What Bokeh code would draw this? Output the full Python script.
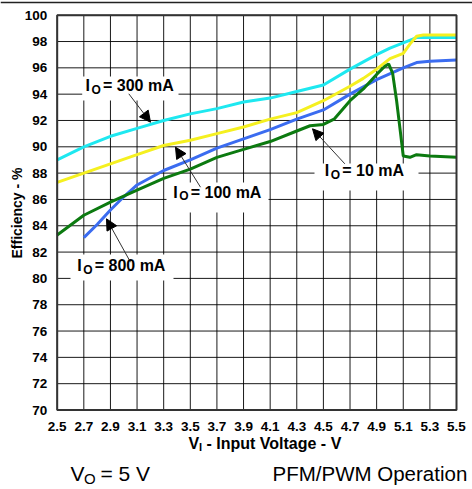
from bokeh.plotting import figure
from bokeh.models import FixedTicker, Label, Arrow, NormalHead, Range1d, Span
from bokeh.embed import file_html
from bokeh.resources import INLINE

# ---- data ----
vin_ticks = [2.5, 2.7, 2.9, 3.1, 3.3, 3.5, 3.7, 3.9, 4.1, 4.3, 4.5, 4.7, 4.9, 5.1, 5.3, 5.5]
eff_ticks = [70, 72, 74, 76, 78, 80, 82, 84, 86, 88, 90, 92, 94, 96, 98, 100]

v_300 = [2.5, 2.7, 2.9, 3.1, 3.3, 3.5, 3.7, 3.9, 4.1, 4.3, 4.5, 4.7, 4.9, 5.0, 5.1, 5.2, 5.3, 5.5]
eff_300 = [89.0, 90.0, 90.8, 91.4, 92.0, 92.5, 92.9, 93.4, 93.7, 94.2, 94.7, 95.9, 97.0, 97.5, 97.9, 98.3, 98.3, 98.3]

v_100 = [2.5, 2.7, 2.9, 3.1, 3.3, 3.5, 3.7, 3.9, 4.1, 4.3, 4.5, 4.7, 4.8, 4.9, 5.0, 5.1, 5.15, 5.2, 5.25, 5.5]
eff_100 = [87.3, 88.0, 88.7, 89.4, 90.1, 90.5, 91.0, 91.5, 92.1, 92.6, 93.5, 94.6, 95.2, 95.9, 96.7, 97.1, 97.8, 98.4, 98.5, 98.5]

v_800 = [2.7, 2.8, 2.9, 3.0, 3.1, 3.3, 3.5, 3.7, 3.9, 4.1, 4.3, 4.5, 4.7, 4.9, 5.1, 5.2, 5.3, 5.5]
eff_800 = [83.1, 84.1, 85.2, 86.2, 87.1, 88.2, 89.0, 89.9, 90.6, 91.3, 92.1, 92.8, 94.0, 95.1, 96.0, 96.4, 96.5, 96.6]

v_10 = [2.5, 2.7, 2.9, 3.1, 3.3, 3.5, 3.7, 3.9, 4.1, 4.3, 4.4, 4.5, 4.58, 4.7, 4.8, 4.9, 4.96, 4.99,
        5.02, 5.05, 5.08, 5.1, 5.15, 5.2, 5.3, 5.5]
eff_10 = [83.3, 84.8, 85.8, 86.7, 87.6, 88.3, 89.2, 89.8, 90.4, 91.2, 91.6, 91.7, 92.1, 93.5, 94.4, 95.5, 96.1, 96.3,
          95.6, 93.5, 91.0, 89.3, 89.2, 89.4, 89.3, 89.2]

series_labels = ["300 mA", "100 mA", "10 mA", "800 mA"]

FONT = "Liberation Sans"
W, H = 472, 488

# ---- canvas <-> data mapping (plot box: x 56.7..456, y 14.7..409.5 px) ----
X0_PX, X1_PX = 56.7, 456.0
Y0_PX, Y1_PX = 14.7, 409.5
SX = (X1_PX - X0_PX) / (vin_ticks[-1] - vin_ticks[0])
SY = (Y1_PX - Y0_PX) / (eff_ticks[-1] - eff_ticks[0])
LIFT = 6.5  # text baseline correction (px)


def X(px):
    return vin_ticks[0] + (px - X0_PX) / SX


def Y(py):
    return eff_ticks[-1] - (py - Y0_PX) / SY


p = figure(width=W, height=H,
           x_range=Range1d(X(0), X(W)), y_range=Range1d(Y(H), Y(0)),
           output_backend="svg", toolbar_location=None, min_border=0,
           background_fill_color="white", border_fill_color="white")
p.outline_line_color = None
p.grid.visible = False

# axes, pinned to the plot box
p.xaxis.fixed_location = eff_ticks[0]
p.yaxis.fixed_location = vin_ticks[0]
p.xaxis.bounds = (vin_ticks[0], vin_ticks[-1])
p.yaxis.bounds = (eff_ticks[0], eff_ticks[-1])
p.xaxis.ticker = FixedTicker(ticks=vin_ticks)
p.yaxis.ticker = FixedTicker(ticks=eff_ticks)
for ax in (p.xaxis, p.yaxis):
    ax.axis_line_color = None
    ax.major_tick_line_color = None
    ax.minor_tick_line_color = None
    ax.major_label_text_font = FONT
    ax.major_label_text_font_style = "bold"
    ax.major_label_text_font_size = "13.5px"
    ax.major_label_text_color = "black"
p.xaxis.major_label_standoff = 6
p.yaxis.major_label_standoff = 4
p.yaxis.axis_label = "Efficiency - %"
p.yaxis.axis_label_text_font = FONT
p.yaxis.axis_label_text_font_style = "bold"
p.yaxis.axis_label_text_font_size = "14px"
p.yaxis.axis_label_text_color = "black"
p.yaxis.axis_label_standoff = -3

# grid lines from the tick lists
nx, ny = len(vin_ticks), len(eff_ticks)
p.segment(x0=vin_ticks, x1=vin_ticks, y0=[eff_ticks[0]] * nx, y1=[eff_ticks[-1]] * nx,
          line_color="black", line_width=1, line_alpha=0.9)
p.segment(x0=[vin_ticks[0]] * ny, x1=[vin_ticks[-1]] * ny, y0=eff_ticks, y1=eff_ticks,
          line_color="black", line_width=1, line_alpha=0.9)

# white boxes behind the curve labels
p.quad(left=[X(81.7), X(166), X(314), X(70)], right=[X(178), X(268), X(418), X(173)],
       top=[Y(76), Y(182), Y(163), Y(254)], bottom=[Y(100), Y(212), Y(190), Y(280)],
       fill_color="white", line_color=None)

# curves
p.line(v_300, eff_300, line_color="#1EE8F0", line_width=3)
p.line(v_100, eff_100, line_color="#F5F020", line_width=3)
p.line(v_800, eff_800, line_color="#3B6CF0", line_width=3)
p.line(v_10, eff_10, line_color="#0C7A10", line_width=3)

# plot box border
p.quad(left=[vin_ticks[0]], right=[vin_ticks[-1]], bottom=[eff_ticks[0]], top=[eff_ticks[-1]],
       fill_alpha=0, line_color="#333333", line_width=2)

# rule at the very top of the page
p.add_layout(Span(location=Y(2), dimension="width", line_color="#222222", line_width=1.5))

# arrows
arrows = [((128.3, 93.3), (150.0, 121.7)),
          ((200.0, 186.7), (175.0, 146.7)),
          ((344.3, 163.3), (312.0, 128.3)),
          ((130.0, 261.7), (106.0, 218.3))]
for (xs, ys), (xe, ye) in arrows:
    p.add_layout(Arrow(end=NormalHead(size=11, fill_color="black", line_color="black"),
                       x_start=X(xs), y_start=Y(ys), x_end=X(xe), y_end=Y(ye),
                       line_color="#333333", line_width=1))

# curve labels  I_O = ...
anchors = [(85.0, 91.7), (172.7, 198.3), (324.3, 176.7), (76.7, 271.7)]


def add_io_label(px, py, txt):
    common = dict(x=X(px), y=Y(py - LIFT), text_font=FONT, text_font_style="bold", text_color="black",
                  text_baseline="alphabetic", text_align="left")
    p.add_layout(Label(text="I", text_font_size="16px", **common))
    p.add_layout(Label(text="O", text_font_size="12px", x_offset=6, y_offset=-4, **common))
    p.add_layout(Label(text="= " + txt, text_font_size="16px", x_offset=17.5, **common))


for (px, py), t in zip(anchors, series_labels):
    add_io_label(px, py, t)

# x-axis title  V_I - Input Voltage - V
xl = dict(x=X(188), y=Y(449 - LIFT), text_font=FONT, text_font_style="bold", text_color="black",
          text_baseline="alphabetic", text_align="left")
p.add_layout(Label(text="V", text_font_size="16px", **xl))
p.add_layout(Label(text="I", text_font_size="11px", x_offset=10.5, y_offset=-4, **xl))
p.add_layout(Label(text="- Input Voltage - V", text_font_size="16px", x_offset=18, **xl))

# conditions below the chart
bl = dict(y=Y(480 - LIFT - 0.5), text_font=FONT, text_color="black", text_baseline="alphabetic",
          text_align="left")
p.add_layout(Label(x=X(70), text="V", text_font_size="21px", **bl))
p.add_layout(Label(x=X(70), text="O", text_font_size="15px", x_offset=13.5, y_offset=-5, **bl))
p.add_layout(Label(x=X(70), text="= 5 V", text_font_size="21px", x_offset=30, **bl))
p.add_layout(Label(x=X(272), text="PFM/PWM Operation", text_font_size="20.5px", **bl))

open("out.html", "w").write(file_html(p, INLINE))
